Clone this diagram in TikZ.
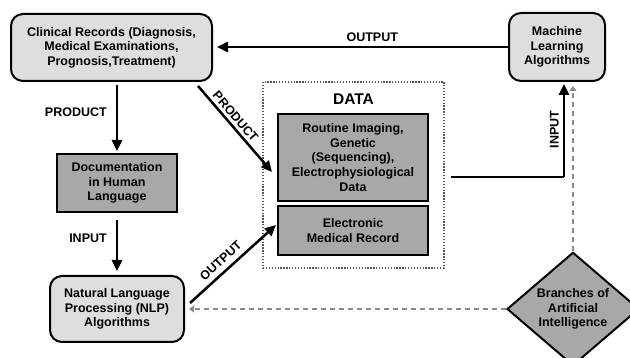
\documentclass[tikz,border=0pt]{standalone}
\usepackage{fontspec}
\setmainfont{Liberation Sans}
\usetikzlibrary{shapes.geometric,arrows.meta,calc}
\definecolor{lightbox}{HTML}{DEDEDE}
\definecolor{darkbox}{HTML}{A8A8A8}
\definecolor{dashgray}{HTML}{8A8A8A}
\definecolor{dotgray}{HTML}{555555}
\begin{document}
\begin{tikzpicture}[x=1pt,y=-1pt,
  txt/.style={font=\bfseries\fontsize{12.5}{14.7}\selectfont, align=center},
  roundbox/.style={txt, draw=black, line width=2pt, fill=lightbox, rounded corners=12pt, inner sep=0pt},
  rectbox/.style={txt, draw=black, line width=2pt, fill=darkbox, inner sep=0pt},
  lbl/.style={font=\bfseries\fontsize{12.5}{14.7}\selectfont, inner sep=1pt},
  arr/.style={line width=2.5pt, -{Triangle[length=11pt,width=10pt]}},
  darr/.style={line width=1.8pt, dashgray, dash pattern=on 5pt off 4pt, -{Triangle[length=5pt,width=7pt]}}
]
\useasboundingbox (0,0) rectangle (630,358);
\clip (0,0) rectangle (630,358);

% DATA dotted frame
\node[draw=dotgray, line width=1.6pt, dash pattern=on 1.3pt off 1.6pt, minimum width=181pt, minimum height=186pt, inner sep=0pt] (data) at (353.5,175) {};
\node[font=\bfseries\fontsize{15.5}{18}\selectfont] (datalbl) at (353.5,99) {DATA};

\node[roundbox, minimum width=201pt, minimum height=67pt] (cr) at (111.5,47.5)
  {Clinical Records (Diagnosis,\\Medical Examinations,\\Prognosis,Treatment)};
\node[roundbox, minimum width=96pt, minimum height=68pt] (ml) at (557,47)
  {Machine\\Learning\\Algorithms};
\node[rectbox, minimum width=120pt, minimum height=58pt] (doc) at (117,183)
  {Documentation\\in Human\\Language};
\node[roundbox, minimum width=134pt, minimum height=66pt] (nlp) at (117,309)
  {Natural Language\\Processing (NLP)\\Algorithms};
\node[rectbox, minimum width=150pt, minimum height=87pt] (routine) at (353,157.5)
  {Routine Imaging,\\Genetic\\(Sequencing),\\Electrophysiological\\Data};
\node[rectbox, minimum width=150pt, minimum height=49pt] (emr) at (353,230.5)
  {Electronic\\Medical Record};
\node[txt, diamond, draw=black, line width=2pt, fill=darkbox, inner sep=0pt,
  minimum width=132pt, minimum height=108pt] (ai) at (573,309)
  {Branches of\\Artificial\\Intelligence};

% arrows
\draw[arr, shorten >=4pt] (ml.west) -- node[lbl, above=3pt, pos=0.46] {OUTPUT} (ml.west -| cr.east);
\draw[arr, shorten <=3pt, shorten >=2pt] (doc.north |- cr.south) -- node[lbl, left=8pt, pos=0.42] {PRODUCT} (doc.north);
\draw[arr, shorten <=7pt, shorten >=4pt] (doc.south) -- node[lbl, left=8pt, pos=0.4] {INPUT} (nlp.north);
\draw[arr] ($(cr.south east)+(-15,4)$) -- node[lbl, sloped, above=2pt, pos=0.42] {PRODUCT} ($(routine.west)+(-5,14.5)$);
\draw[arr] ($(nlp.east)+(5,-6)$) -- node[lbl, sloped, above=4pt, pos=0.44] {OUTPUT} ($(emr.west)+(-1,-5.5)$);
\coordinate (inA) at ($(routine.east)+(22,19.5)$);
\coordinate (inB) at ($(inA)+(113,0)$);
\draw[line width=2.5pt] (inA) -- (inB);
\draw[arr, shorten >=2pt] (inB) -- node[lbl, rotate=90, above=3pt] {INPUT} (inB |- ml.south);

% dashed gray
\draw[darr, shorten >=4pt] (ai.north) -- (ai.north |- ml.south);
\draw[darr, shorten >=4pt] (ai.west) -- (ai.west -| nlp.east);
\end{tikzpicture}
\end{document}
